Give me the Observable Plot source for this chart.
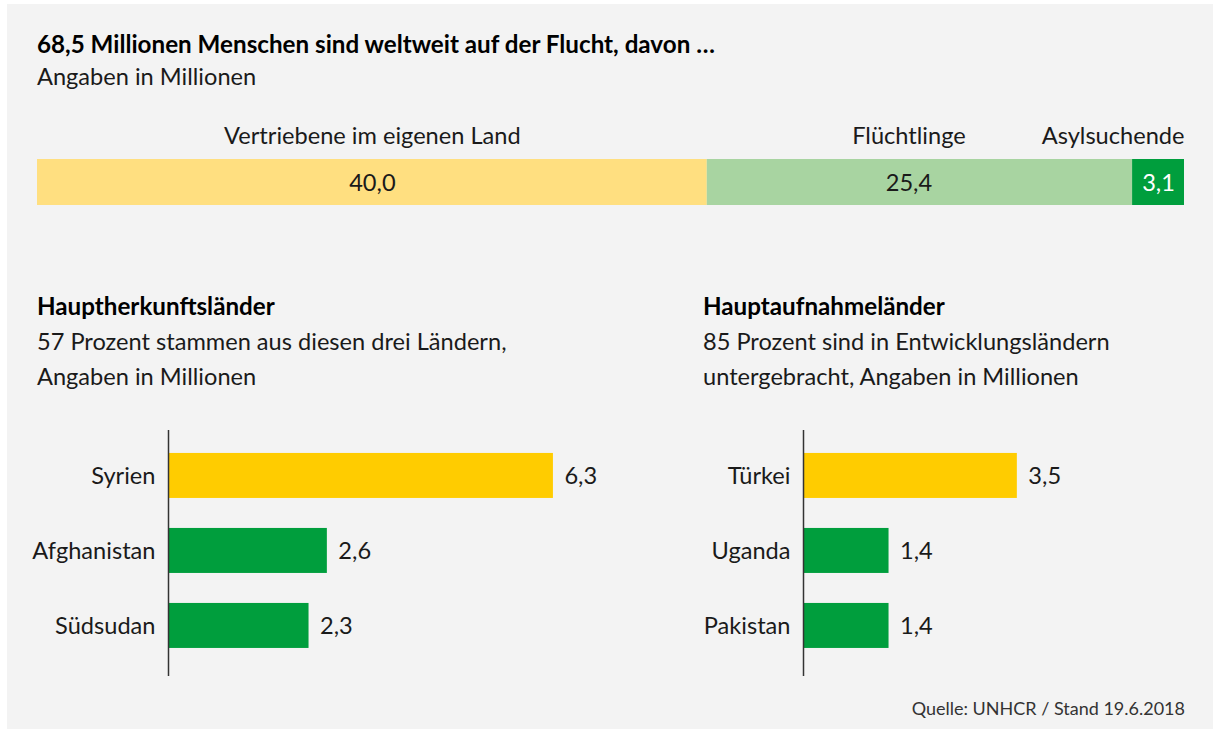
<!DOCTYPE html>
<html><head><meta charset="utf-8">
<script src="https://cdn.jsdelivr.net/npm/d3@7"></script>
<script src="https://cdn.jsdelivr.net/npm/@observablehq/plot@0.6"></script>
<style>
body{margin:0;background:#fff;}
#wrap{position:relative;width:1213px;height:729px;overflow:hidden;color:#1a1a1a;}
#panel{position:absolute;left:7px;top:4px;width:1206px;height:725px;background:#f3f3f3;}
.t{position:absolute;white-space:nowrap;line-height:1;}
.p{position:absolute;}
</style></head>
<body><div id="wrap"><div id="panel"></div></div>
<script>
const FONT = "Lato, sans-serif";
const title = "68,5 Millionen Menschen sind weltweit auf der Flucht, davon …";
const subtitle = "Angaben in Millionen";
const segments = ["Vertriebene im eigenen Land", "Flüchtlinge", "Asylsuchende"];
const segmentValues = [40.0, 25.4, 3.1];
const originTitle = "Hauptherkunftsländer";
const originSubtitle = ["57 Prozent stammen aus diesen drei Ländern,", "Angaben in Millionen"];
const originCountries = ["Syrien", "Afghanistan", "Südsudan"];
const originValues = [6.3, 2.6, 2.3];
const hostTitle = "Hauptaufnahmeländer";
const hostSubtitle = ["85 Prozent sind in Entwicklungsländern", "untergebracht, Angaben in Millionen"];
const hostCountries = ["Türkei", "Uganda", "Pakistan"];
const hostValues = [3.5, 1.4, 1.4];
const source = "Quelle: UNHCR / Stand 19.6.2018";

const FS = 23.6;      // regular text size
const FS_BOLD = 24.2; // bold headings
const fmt = v => d3.format(".1f")(v).replace(".", ",");
const wrap = document.getElementById("wrap");

function addText(str, x, baseline, size, opts = {}) {
  const d = document.createElement("div");
  d.className = "t";
  d.textContent = str;
  d.style.fontFamily = FONT;
  d.style.fontSize = size + "px";
  d.style.fontWeight = opts.bold ? "700" : "400";
  d.style.top = (baseline - 0.887 * size) + "px";
  if (opts.right) { d.style.right = (1213 - x) + "px"; } else { d.style.left = x + "px"; }
  if (opts.color) d.style.color = opts.color;
  wrap.appendChild(d);
}
function addPlot(svg, left, top) {
  svg.classList.add("p");
  svg.style.left = left + "px";
  svg.style.top = top + "px";
  wrap.appendChild(svg);
}

// headings
addText(title, 37, 53, FS_BOLD, {bold: true, color: "#000"});
addText(subtitle, 37, 86, FS);
addText(originTitle, 37, 315, FS_BOLD, {bold: true, color: "#000"});
addText(originSubtitle[0], 37, 351, FS);
addText(originSubtitle[1], 37, 386, FS);
addText(hostTitle, 703, 315, FS_BOLD, {bold: true, color: "#000"});
addText(hostSubtitle[0], 703, 351, FS);
addText(hostSubtitle[1], 703, 386, FS);
addText(source, 1185, 715, 18, {right: true, color: "#333"});

// top stacked bar
let acc = 0;
const segData = segments.map((name, i) => {
  const x1 = acc; acc += segmentValues[i];
  return {name, value: segmentValues[i], x1, x2: acc};
});
const mid = d => (d.x1 + d.x2) / 2;
const topPlot = Plot.plot({
  width: 1213, height: 100,
  marginLeft: 37, marginRight: 29, marginTop: 49, marginBottom: 5,
  x: {domain: [0, d3.sum(segmentValues)], axis: null},
  color: {domain: segments, range: ["#ffdf80", "#a8d4a1", "#009e3d"]},
  style: {background: "transparent", fontFamily: FONT, fontSize: FS + "px", color: "#1a1a1a"},
  marks: [
    Plot.barX(segData, {x1: "x1", x2: "x2", fill: "name"}),
    Plot.text([segData[0]], {x: mid, text: d => fmt(d.value), fill: "#1a1a1a", fontSize: FS, dy: 1}),
    Plot.text([segData[1]], {x: mid, text: d => fmt(d.value), fill: "#1a1a1a", fontSize: FS, dx: -11, dy: 1}),
    Plot.text([segData[2]], {x: mid, text: d => fmt(d.value), fill: "white", fontSize: FS, dy: 1}),
    Plot.text([segData[0]], {x: mid, text: "name", frameAnchor: "top", lineAnchor: "bottom", dy: -16, fill: "#1a1a1a", fontSize: FS}),
    Plot.text([segData[1]], {x: mid, text: "name", frameAnchor: "top", lineAnchor: "bottom", dy: -16, dx: -11, fill: "#1a1a1a", fontSize: FS}),
    Plot.text([segData[2]], {x: "x2", text: "name", textAnchor: "end", frameAnchor: "top", lineAnchor: "bottom", dy: -16, fill: "#1a1a1a", fontSize: FS})
  ]
});
addPlot(topPlot, 0, 110);

// bottom bar charts (same scale for both panels)
const PX_PER_UNIT = 61.1;
function barChart(countries, values, axisX, width) {
  const data = countries.map((c, i) => ({country: c, value: values[i]}));
  const maxV = (width - axisX) / PX_PER_UNIT;
  return Plot.plot({
    width, height: 270,
    marginLeft: axisX, marginRight: 0, marginTop: 10, marginBottom: 14,
    x: {domain: [0, maxV], axis: null},
    y: {domain: countries, paddingInner: 0.4, paddingOuter: 0.34, align: 0.45, round: false},
    color: {domain: countries, range: ["#ffcc00", "#009e3d", "#009e3d"]},
    style: {background: "transparent", fontFamily: FONT, fontSize: FS + "px", color: "#1a1a1a"},
    marks: [
      Plot.barX(data, {x: "value", y: "country", fill: "country"}),
      Plot.text(data, {x: "value", y: "country", text: d => fmt(d.value), textAnchor: "start", dx: 11, fill: "#1a1a1a", fontSize: FS}),
      Plot.ruleX([0], {stroke: "#333", strokeWidth: 1.5}),
      Plot.axisY({tickSize: 0, tickPadding: 13, fontSize: FS, label: null, fill: "#1a1a1a"})
    ]
  });
}
addPlot(barChart(originCountries, originValues, 168, 660), 0, 420);
addPlot(barChart(hostCountries, hostValues, 163, 573), 640, 420);
</script>
</body></html>
